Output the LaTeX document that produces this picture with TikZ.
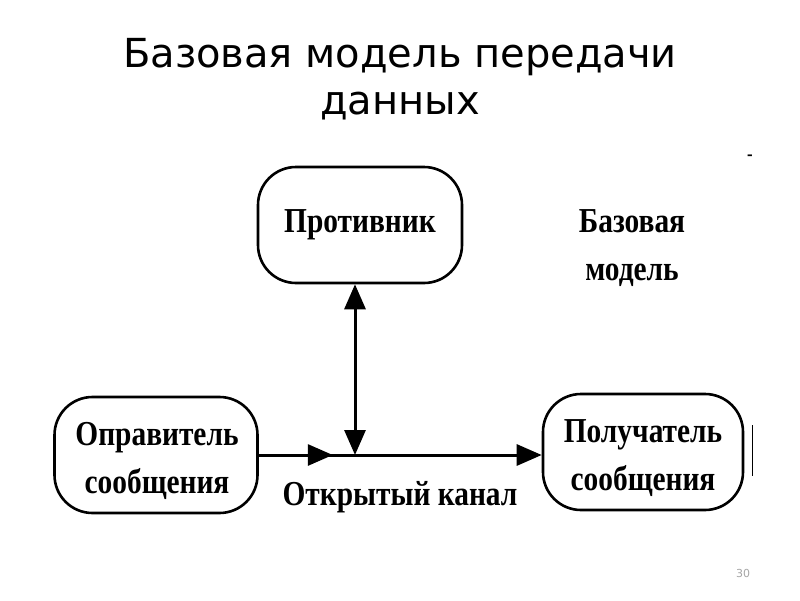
\documentclass[tikz,border=0pt]{standalone}
\usepackage{fontspec}
\setmainfont{Liberation Serif}
\newfontfamily\titlefont{DejaVu Sans}
\newfontfamily\boxfont[FakeStretch=0.84]{Liberation Serif Bold}
\usetikzlibrary{arrows.meta,decorations.markings}
\tikzset{
  rbox/.style={draw, line width=2.6pt, rounded corners=38pt, minimum width=#1, minimum height=116pt, inner sep=0pt},
  btext/.style={font=\boxfont\fontsize{35}{48}\selectfont, align=center},
  conn/.style={line width=3pt},
  tip/.style={-{Triangle[length=25pt,width=21pt]}}
}
\begin{document}
\begin{tikzpicture}[x=1pt,y=-1pt]
\useasboundingbox[fill=white] (0,0) rectangle (800,600);
\node[font=\titlefont\fontsize{40}{47}\selectfont, align=center] (title) at (400,79) {Базовая модель передачи\\данных};
\node[rbox=204pt] (adv) at (360,225) {};
\node[btext] (advt) at (360,225) {Противник};
\node[rbox=203pt] (snd) at (156,455) {};
\node[btext] (sndt) at (157,461) {Оправитель\\сообщения};
\node[rbox=200pt] (rcv) at (643,452) {};
\node[btext] (rcvt) at (643,458) {Получатель\\сообщения};
\coordinate (j) at (355,455);
\draw[conn, decoration={markings, mark=at position 74pt with {\arrow{Triangle[length=25pt,width=21pt]}}}, postaction={decorate}, tip] (snd.east |- j) -- (rcv.west |- j);
\draw[conn, {Triangle[length=25pt,width=21pt]}-{Triangle[length=25pt,width=21pt]}] (adv.south -| j) -- (j);
\node[btext] (chan) at (400,497) {Открытый канал};
\node[btext] (model) at (632,248) {Базовая\\модель};
\node[font=\boxfont\fontsize{20}{20}\selectfont] (dash) at (750,158) {-};
\draw[line width=1pt] (752,425) coordinate (s1) -- (752,476) coordinate (s2);
\node[font=\titlefont\fontsize{11}{11}\selectfont, text=gray!70] (num) at (743,573) {30};
\end{tikzpicture}
\end{document}
